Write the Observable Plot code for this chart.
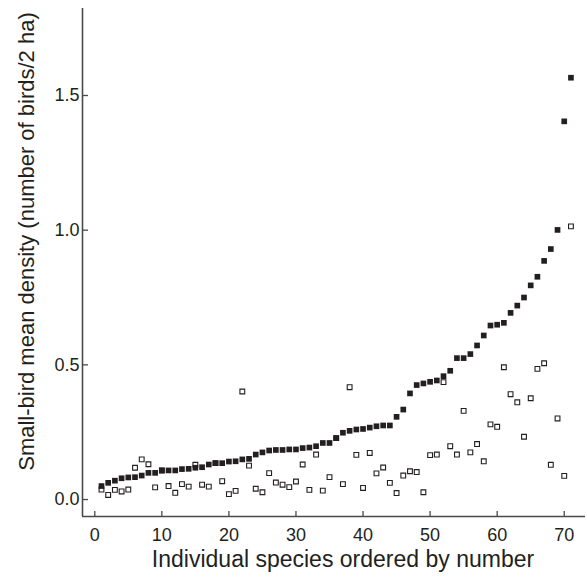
<!DOCTYPE html>
<html>
<head>
<meta charset="utf-8">
<script src="https://cdn.jsdelivr.net/npm/d3@7"></script>
<script src="https://cdn.jsdelivr.net/npm/@observablehq/plot@0.6"></script>
<style>
  body { margin: 0; background: #fff; }
</style>
</head>
<body>
<div id="chart"></div>
<script>
// Species rank (x)
const species = [1,2,3,4,5,6,7,8,9,10,11,12,13,14,15,16,17,18,19,20,
  21,22,23,24,25,26,27,28,29,30,31,32,33,34,35,36,37,38,39,40,
  41,42,43,44,45,46,47,48,49,50,51,52,53,54,55,56,57,58,59,60,
  61,62,63,64,65,66,67,68,69,70,71];

// Filled squares: ordered mean density
const filledDensity = [0.050,0.062,0.070,0.079,0.082,0.083,0.089,0.099,0.099,0.108,
  0.108,0.108,0.113,0.114,0.118,0.120,0.130,0.135,0.135,0.141,
  0.142,0.149,0.151,0.167,0.175,0.182,0.184,0.184,0.186,0.186,
  0.191,0.193,0.198,0.210,0.210,0.228,0.248,0.255,0.260,0.262,
  0.267,0.272,0.275,0.275,0.307,0.334,0.394,0.425,0.431,0.437,
  0.442,0.458,0.478,0.525,0.525,0.540,0.572,0.609,0.646,0.649,
  0.656,0.693,0.720,0.750,0.795,0.827,0.886,0.930,1.001,1.404,
  1.566];

// Open squares: second series
const openDensity = [0.037,0.017,0.036,0.030,0.037,0.118,0.149,0.131,0.045,0.108,
  0.050,0.025,0.057,0.048,0.129,0.055,0.048,0.135,0.068,0.020,
  0.032,0.401,0.126,0.040,0.027,0.098,0.063,0.055,0.046,0.067,
  0.130,0.036,0.167,0.033,0.083,0.228,0.057,0.417,0.166,0.043,
  0.173,0.097,0.119,0.062,0.024,0.089,0.105,0.102,0.027,0.165,
  0.167,0.436,0.198,0.167,0.329,0.175,0.206,0.142,0.279,0.270,
  0.491,0.391,0.361,0.233,0.376,0.485,0.506,0.129,0.301,0.088,
  1.014];

const xTicks = [0,10,20,30,40,50,60,70];
const yTicks = [0.0,0.5,1.0,1.5];
const xDomain = [-1.83, 73.17];
const yDomain = [-0.063, 1.823];
const xTitle = "Individual species ordered by number";
const yTitle = "Small-bird mean density (number of birds/2 ha)";

const filled = species.map((s, i) => ({species: s, density: filledDensity[i]}));
const open = species.map((s, i) => ({species: s, density: openDensity[i]}));

const ink = "#231f20";
const axisInk = "#4a4a4a";

const chart = Plot.plot({
  width: 587,
  height: 578,
  marginLeft: 82,
  marginRight: 2,
  marginTop: 8,
  marginBottom: 62,
  style: {fontFamily: "'Liberation Sans', Arial, sans-serif", fontSize: "18px", color: ink, background: "#fff", overflow: "visible"},
  x: {domain: xDomain},
  y: {domain: yDomain},
  marks: [
    Plot.axisX(xTicks, {tickSize: 0, tickPadding: 12, tickFormat: d => String(d), fontSize: 18, label: null, fill: ink}),
    Plot.axisY(yTicks, {tickSize: 0, tickPadding: 3, tickFormat: d3.format(".1f"), fontSize: 18, label: null, fill: ink}),
    Plot.tickX(xTicks, {x: d => d, insetTop: 503, stroke: axisInk, strokeWidth: 1.3}),
    Plot.tickY(yTicks, {y: d => d, insetRight: 497, stroke: axisInk, strokeWidth: 1.3}),
    Plot.ruleX([xDomain[0]], {stroke: axisInk, strokeWidth: 1.6}),
    Plot.ruleY([yDomain[0]], {stroke: axisInk, strokeWidth: 1.6}),
    Plot.dot(open, {x: "species", y: "density", symbol: "square", r: 2.7, fill: "white", stroke: ink, strokeWidth: 1.1}),
    Plot.dot(filled, {x: "species", y: "density", symbol: "square", r: 3.2, fill: ink, stroke: "none"}),
    Plot.text([xTitle], {frameAnchor: "bottom", textAnchor: "middle", lineAnchor: "middle", dx: 9, dy: 43, fontSize: 23, fill: ink}),
    Plot.text([yTitle], {frameAnchor: "left", textAnchor: "middle", lineAnchor: "middle", rotate: -90, dx: -56, dy: -21, fontSize: 22, fill: ink})
  ]
});

document.getElementById("chart").appendChild(chart);
</script>
</body>
</html>
